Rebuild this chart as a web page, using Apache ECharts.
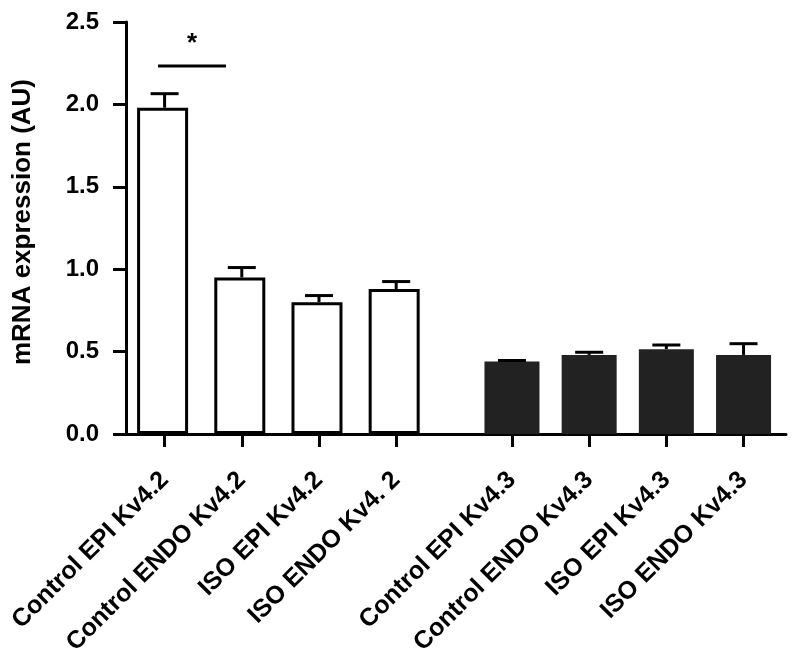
<!DOCTYPE html>
<html>
<head>
<meta charset="utf-8">
<script src="https://cdn.jsdelivr.net/npm/echarts@6/dist/echarts.min.js"></script>
<style>html,body{margin:0;padding:0;background:#fff;}#c{width:800px;height:652px;}</style>
</head>
<body>
<div id="c"></div>
<script>
var categories = ['Control EPI Kv4.2','Control ENDO Kv4.2','ISO EPI Kv4.2','ISO ENDO Kv4. 2',
                  'Control EPI Kv4.3','Control ENDO Kv4.3','ISO EPI Kv4.3','ISO ENDO Kv4.3'];
var positions = [1, 2, 3, 4, 5.5, 6.5, 7.5, 8.5];
var kv42Values = [1.98, 0.95, 0.80, 0.88];
var kv42Errors = [0.085, 0.06, 0.04, 0.045];
var kv43Values = [0.44, 0.48, 0.515, 0.48];
var kv43Errors = [0.006, 0.016, 0.025, 0.068];
var yTicks = [0, 0.5, 1.0, 1.5, 2.0, 2.5];
var sigBracket = {from: 0.915, to: 1.795, y: 2.233, label: '*', labelY: 2.37};

var FONT = 'Liberation Sans, Arial, Helvetica, sans-serif';
var allValues = kv42Values.concat(kv43Values);
var allErrors = kv42Errors.concat(kv43Errors);

var whiteData = kv42Values.map(function(v, i){ return [positions[i], v]; });
var darkData = kv43Values.map(function(v, i){ return [positions[i + 4], v]; });
var errData = allValues.map(function(v, i){ return [positions[i], v, allErrors[i]]; });
var labelMap = {};
positions.forEach(function(p, i){ labelMap[p] = categories[i]; });

var chart = echarts.init(document.getElementById('c'), null, {renderer: 'canvas'});
chart.setOption({
  backgroundColor: '#fff',
  animation: false,
  grid: {left: 126, right: 14, top: 22, bottom: 218, containLabel: false, outerBoundsMode: 'none'},
  xAxis: {
    type: 'value', min: 0.5, max: 9.05,
    splitLine: {show: false},
    axisLine: {show: true, onZero: false, lineStyle: {color: '#000', width: 3}},
    axisTick: {show: true, customValues: positions, length: 13, lineStyle: {color: '#000', width: 3}},
    axisLabel: {show: true, customValues: positions, rotate: 45, margin: 42,
      fontFamily: FONT, fontWeight: 'bold', fontSize: 25, color: '#000',
      formatter: function(v){ return labelMap[v] || ''; }}
  },
  yAxis: {
    type: 'value', min: 0, max: 2.5, interval: 0.5,
    name: 'mRNA expression (AU)', nameLocation: 'middle', nameRotate: 90, nameGap: 90,
    nameTextStyle: {fontFamily: FONT, fontWeight: 'bold', fontSize: 26, color: '#000', padding: [0, 0, 0, 12]},
    splitLine: {show: false},
    axisLine: {show: true, lineStyle: {color: '#000', width: 3}},
    axisTick: {show: true, length: 13, lineStyle: {color: '#000', width: 3}},
    axisLabel: {margin: 27, fontFamily: FONT, fontWeight: 'bold', fontSize: 24, color: '#000',
      formatter: function(v){ return v.toFixed(1); }}
  },
  series: [
    {type: 'bar', data: whiteData, barWidth: 51, z: 2,
     itemStyle: {color: '#fff', borderColor: '#000', borderWidth: 3}},
    {type: 'bar', data: darkData, barWidth: 55, barGap: '-100%', z: 2,
     itemStyle: {color: '#222', borderColor: '#222', borderWidth: 0}},
    {type: 'custom', data: errData, z: 3,
     renderItem: function(params, api){
       var x = api.value(0), v = api.value(1), e = api.value(2);
       var p0 = api.coord([x, v]);
       var p1 = api.coord([x, v + e]);
       var hw = 14;
       var st = {stroke: '#000', lineWidth: 3};
       return {type: 'group', children: [
         {type: 'line', shape: {x1: p0[0], y1: p0[1], x2: p1[0], y2: p1[1]}, style: st},
         {type: 'line', shape: {x1: p1[0] - hw, y1: p1[1], x2: p1[0] + hw, y2: p1[1]}, style: st}
       ]};
     }},
    {type: 'custom', data: [[sigBracket.from, sigBracket.to, sigBracket.y, sigBracket.labelY]], z: 3,
     renderItem: function(params, api){
       var a = api.coord([api.value(0), api.value(2)]);
       var b = api.coord([api.value(1), api.value(2)]);
       var t = api.coord([(api.value(0) + api.value(1)) / 2, api.value(3)]);
       return {type: 'group', children: [
         {type: 'line', shape: {x1: a[0], y1: a[1], x2: b[0], y2: b[1]}, style: {stroke: '#000', lineWidth: 3}},
         {type: 'text', x: t[0], y: t[1], style: {text: sigBracket.label, fill: '#000',
           font: 'bold 26px ' + FONT, align: 'center', verticalAlign: 'middle'}}
       ]};
     }}
  ]
});
</script>
</body>
</html>
